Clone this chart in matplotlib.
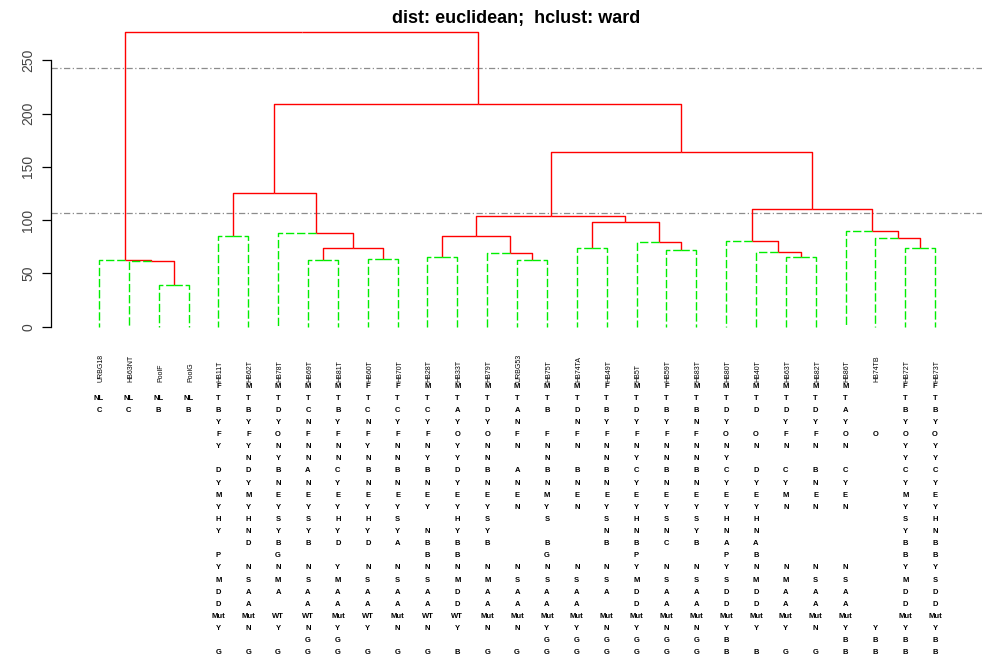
import matplotlib
matplotlib.use("Agg")
import matplotlib.pyplot as plt
from matplotlib import transforms

plt.rcParams["font.family"] = ["Liberation Sans", "DejaVu Sans"]

W, H, DPI = 991, 662, 100

title = "dist: euclidean;  hclust: ward"

leaf_labels = ["URBG18", "HB63NT", "PoolF", "PoolG", "HB11T", "HB62T", "HB78T",
               "HB69T", "HB81T", "HB60T", "HB70T", "HB28T", "HB33T", "HB79T",
               "URBG53", "HB75T", "HB74TA", "HB49T", "HB5T", "HB59T", "HB83T",
               "HB80T", "HB40T", "HB63T", "HB82T", "HB86T", "HB74TB", "HB72T",
               "HB73T"]

# R-style hclust merge matrix: negative = leaf (1-based), positive = earlier merge (1-based)
merge_left = [-3, -2, -1, -8, -15, -10, -12, -24, -14, -23, -20, -17, -28, 4,
              -19, -22, -27, -5, 7, -7, -26, 12, 19, 16, 18, 23, 25, 3]
merge_right = [-4, 1, 2, -9, -16, -11, -13, -25, 5, 8, -21, -18, -29, 6,
               11, 10, 13, -6, 9, 14, 17, 15, 22, 21, 20, 24, 26, 27]
merge_height = [38.8, 61.7, 62.6, 62.5, 62.6, 63.2, 65.1, 65.1, 69.5, 69.8,
                71.7, 73.9, 73.9, 74.1, 79.2, 80.4, 82.9, 85.4, 85.4, 87.6,
                90.1, 98.3, 103.9, 110.2, 125.5, 163.6, 208.7, 276.6]

cut_heights = [242.5, 106.7]
y_ticks = [0, 50, 100, 150, 200, 250]

# 23 annotation rows under each leaf ('.' = empty)
leaf_codes = [
    ". NL C . . . . . . . . . . . . . . . . . . . .",
    ". NL C . . . . . . . . . . . . . . . . . . . .",
    ". NL B . . . . . . . . . . . . . . . . . . . .",
    ". NL B . . . . . . . . . . . . . . . . . . . .",
    "F T B Y F Y . D Y M Y H Y . P Y M D D Mut Y . G",
    "M T B Y F Y N D Y M Y H N D . N S A A Mut N . G",
    "M T D Y O N Y B N E Y S Y B G N M A . WT Y . G",
    "M T C N F N N A N E Y S Y B . N S A A WT N G G",
    "M T B Y F N N C Y E Y H Y D . Y M A A Mut Y G G",
    "F T C N F Y N B N E Y H Y D . N S A A WT Y . G",
    "F T C Y F N N B N E Y S Y A . N S A A Mut N . G",
    "M T C Y F N Y B N E Y . N B B N S A A WT N . G",
    "M T A Y O Y Y D Y E Y H Y B B N M D D WT Y . B",
    "M T D Y O N N B N E Y S Y B . N M A A Mut N . G",
    "M T A N F N . A N E N . . . . N S A A Mut N . G",
    "M T B . F N N B N M Y S . B G N S A A Mut Y G G",
    "M T D N F N . B N E N . . . . N S A A Mut Y G G",
    "F T B Y F N N B N E Y S N B . N S A . Mut N G G",
    "M T D Y F N Y C Y E Y H N B P Y M D D Mut Y G G",
    "F T B Y F N N B N E Y S N C . N S A A Mut N G G",
    "M T B N F N N B N E Y S Y B . N S A A Mut N G G",
    "M T D Y O N Y C Y E Y H N A P Y S D D Mut Y B B",
    "M T D . O N . D Y E Y H N A B N M D D Mut Y . B",
    "M T D Y F N . C Y M N . . . . N M A A Mut Y . G",
    "M T D Y F N . B N E N . . . . N S A A Mut N . G",
    "M T A Y O N . C Y E N . . . . N S A A Mut Y B B",
    ". . . . O . . . . . . . . . . . . . . . Y B B",
    "F T B Y O Y Y C Y M Y S Y B B Y M D D Mut Y B B",
    "F T B Y O Y Y C Y E Y H N B B Y S D D Mut Y B B",
]

RED = "#FF0000"
GREEN = "#00EE00"

fig = plt.figure(figsize=(W / DPI, H / DPI), dpi=DPI)
ax_left, ax_right, ax_top, ax_bot = 50.7, 981.7, 19.8, 338.4
ax = fig.add_axes([ax_left / W, 1 - ax_bot / H, (ax_right - ax_left) / W,
                   (ax_bot - ax_top) / H])
ax.set_xlim(-1.618, 29.56)
ax.set_ylim(-11, 288)

# dendrogram geometry
n = len(leaf_labels)
node_x, node_h = [], []


def coord(ref):
    if ref < 0:
        return float(-ref - 1), 0.0, True
    return node_x[ref - 1], node_h[ref - 1], False


for a, b, h in zip(merge_left, merge_right, merge_height):
    xa, _, _ = coord(a)
    xb, _, _ = coord(b)
    node_x.append((xa + xb) / 2)
    node_h.append(h)

# draw red (internal) first, then green leaf edges on top
segs = []
for k, (a, b, h) in enumerate(zip(merge_left, merge_right, merge_height)):
    x0 = node_x[k]
    for ref in (a, b):
        cx, ch, is_leaf = coord(ref)
        segs.append((is_leaf, [x0, cx, cx], [h, h, ch]))
for is_leaf, xs, ys in segs:
    if not is_leaf:
        ax.plot(xs, ys, color=RED, lw=1.0, solid_capstyle="butt", zorder=2)
for is_leaf, xs, ys in segs:
    if is_leaf:
        ax.plot(xs, ys, color=GREEN, lw=1.0, ls=(0, (6, 2)), zorder=3)

for ch in cut_heights:
    ax.axhline(ch, color="#8c8c8c", lw=0.9, ls=(0, (5, 2, 1, 2)), zorder=1)

# axes styling (R-like)
for s in ("top", "right", "bottom"):
    ax.spines[s].set_visible(False)
ax.spines["left"].set_bounds(0, 250)
ax.spines["left"].set_linewidth(0.9)
ax.set_xticks([])
ax.set_yticks(y_ticks)
ax.set_yticklabels([str(t) for t in y_ticks])
ax.tick_params(axis="y", length=6.5, width=0.9, pad=4.8, labelsize=10,
               labelcolor="#444444", labelrotation=90)
for lbl in ax.get_yticklabels():
    lbl.set_va("center")

fig.text(516.2 / W, 1 - 18 / H, title, ha="center", va="center",
         fontsize=13, fontweight="bold")

trans = transforms.blended_transform_factory(ax.transData, fig.transFigure)
for i, lab in enumerate(leaf_labels):
    ax.text(i + 0.06, 1 - 382 / H, lab, rotation=90, ha="center", va="bottom",
            fontsize=5, transform=trans, clip_on=False)
    for r, tok in enumerate(leaf_codes[i].split()):
        if tok == ".":
            continue
        y = 386 + 12.13 * r
        ax.text(i, 1 - y / H, tok, ha="center", va="center", fontsize=5.5,
                fontweight="bold", transform=trans, clip_on=False)

fig.savefig("out.png", dpi=DPI)
